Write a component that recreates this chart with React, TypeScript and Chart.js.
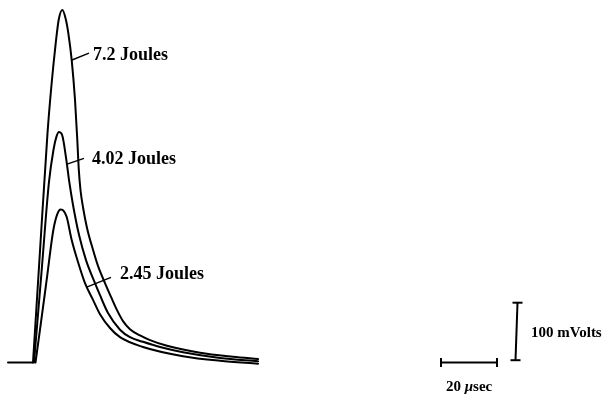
import { useEffect, useRef } from "react";
import { Chart, registerables } from "chart.js";

Chart.register(...registerables);

// Time axis in microseconds from pulse onset, amplitude in millivolts.
const baselineT = [-8.93, 0];
const baselineV = [0, 0];

const pulse72T = [0, 2.5, 5.18, 6.61, 8.04, 9.18, 10.46, 11.71, 12.61, 13.82, 15.0, 15.82, 16.36, 16.96, 17.86, 19.29, 21.43, 23.21, 25.71, 27.86, 30.0, 32.14, 34.64, 38.21, 41.79, 47.86, 59.64, 71.43, 80.36];
const pulse72V = [0, 194, 399, 483, 552, 596, 613, 597, 573, 526, 457, 387, 335, 300, 270, 234, 196, 168, 138, 114, 91, 72, 58, 47, 39, 29, 17, 10, 6];

const pulse402T = [0.36, 3.04, 5.71, 7.32, 8.32, 9.29, 10.29, 10.89, 12.25, 12.96, 14.29, 16.43, 18.93, 22.14, 23.93, 26.79, 31.07, 34.64, 39.29, 45.36, 53.57, 66.79, 80.36];
const pulse402V = [0, 157, 314, 370, 392, 401, 397, 385, 340, 314, 274, 222, 178, 138, 117, 86, 57, 44, 36, 27, 18, 8, 2];

const pulse245T = [0.89, 2.5, 4.89, 7.25, 8.68, 9.89, 11.07, 12.04, 13.82, 16.18, 18.57, 21.43, 23.93, 27.5, 31.07, 39.29, 53.57, 66.79, 80.36];
const pulse245V = [0, 57, 144, 230, 258, 266, 263, 253, 213, 173, 138, 109, 84, 60, 44, 27, 11, 3, -2];

// Scale bars: 20 µs horizontally, 100 mV vertically.
const timeBarT = [145.71, 165.71];
const timeBarV = [0, 0];
const voltBarT = [172.32, 173.04];
const voltBarV = [4, 104];

// Energy labels with their leader lines (anchor in µs / mV).
const energyLabels = ["7.2 Joules", "4.02 Joules", "2.45 Joules"];
const energyLabelT = [21.43, 21.07, 31.07];
const energyLabelV = [526, 346, 145];
const leaderStartT = [13.93, 12.14, 19.18];
const leaderStartV = [526, 345, 131];
const leaderEndT = [20.0, 18.21, 27.86];
const leaderEndV = [538, 355, 148];

// Visible window: 2.8 px per µs, 0.575 px per mV on a 602x399 canvas.
const X_MIN = -33 / 2.8;
const X_MAX = (602 - 33) / 2.8;
const Y_MAX = 362.5 / 0.575;
const Y_MIN = (362.5 - 399) / 0.575;

const zip = (t: number[], v: number[]) => t.map((x, i) => ({ x, y: v[i] }));

const FONT = '"Liberation Serif", "Times New Roman", serif';

const textPlugin = {
  id: "figureText",
  afterDatasetsDraw(chart: any) {
    const { ctx } = chart;
    const xs = chart.scales.x;
    const ys = chart.scales.y;
    ctx.save();
    ctx.fillStyle = "#000";
    ctx.textBaseline = "alphabetic";
    ctx.textAlign = "left";

    ctx.font = `bold 18px ${FONT}`;
    energyLabels.forEach((txt, i) => {
      ctx.fillText(txt, xs.getPixelForValue(energyLabelT[i]), ys.getPixelForValue(energyLabelV[i]));
    });

    ctx.font = `bold 15px ${FONT}`;
    ctx.fillText("100 mVolts", xs.getPixelForValue(177.86), ys.getPixelForValue(44.3));

    // "20 μsec" with an italic mu
    let px = xs.getPixelForValue(147.5);
    const py = ys.getPixelForValue(-49.6);
    ctx.font = `bold 15px ${FONT}`;
    ctx.fillText("20 ", px, py);
    px += ctx.measureText("20 ").width;
    ctx.font = `italic bold 15px ${FONT}`;
    ctx.fillText("μ", px, py);
    px += ctx.measureText("μ").width;
    ctx.font = `bold 15px ${FONT}`;
    ctx.fillText("sec", px, py);

    ctx.restore();
  },
};

export default function App() {
  const canvasRef = useRef<HTMLCanvasElement | null>(null);

  useEffect(() => {
    if (!canvasRef.current) return;

    const trace = (label: string, t: number[], v: number[]) => ({
      label,
      data: zip(t, v),
      borderColor: "#000",
      borderWidth: 2,
      pointRadius: 0,
      cubicInterpolationMode: "monotone" as const,
      borderJoinStyle: "round" as const,
      borderCapStyle: "round" as const,
      fill: false,
    });

    const leaders = energyLabels.map((txt, i) => ({
      label: `${txt} leader`,
      data: zip([leaderStartT[i], leaderEndT[i]], [leaderStartV[i], leaderEndV[i]]),
      borderColor: "#000",
      borderWidth: 1.5,
      pointRadius: 0,
      tension: 0,
      fill: false,
    }));

    const chart = new Chart(canvasRef.current, {
      type: "line",
      data: {
        datasets: [
          trace("baseline", baselineT, baselineV),
          trace("7.2 Joules", pulse72T, pulse72V),
          trace("4.02 Joules", pulse402T, pulse402V),
          trace("2.45 Joules", pulse245T, pulse245V),
          ...leaders,
          {
            label: "20 µsec",
            data: zip(timeBarT, timeBarV),
            borderColor: "#000",
            borderWidth: 2,
            tension: 0,
            pointStyle: "line",
            pointRotation: 90,
            pointRadius: 4.5,
            pointBorderWidth: 2,
            pointBorderColor: "#000",
            fill: false,
          },
          {
            label: "100 mVolts",
            data: zip(voltBarT, voltBarV),
            borderColor: "#000",
            borderWidth: 2,
            tension: 0,
            pointStyle: "line",
            pointRotation: 0,
            pointRadius: 5,
            pointBorderWidth: 2,
            pointBorderColor: "#000",
            fill: false,
          },
        ],
      },
      options: {
        animation: false,
        responsive: false,
        maintainAspectRatio: false,
        layout: { padding: 0, autoPadding: false },
        events: [],
        plugins: {
          legend: { display: false },
          tooltip: { enabled: false },
          title: { display: false },
        },
        scales: {
          x: { type: "linear", display: false, min: X_MIN, max: X_MAX },
          y: { type: "linear", display: false, min: Y_MIN, max: Y_MAX },
        },
      },
      plugins: [textPlugin],
    });

    return () => chart.destroy();
  }, []);

  return (
    <div style={{ position: "fixed", left: 0, top: 0, width: 602, height: 399, background: "#fff" }}>
      <canvas ref={canvasRef} width={602} height={399} style={{ display: "block" }} />
    </div>
  );
}
